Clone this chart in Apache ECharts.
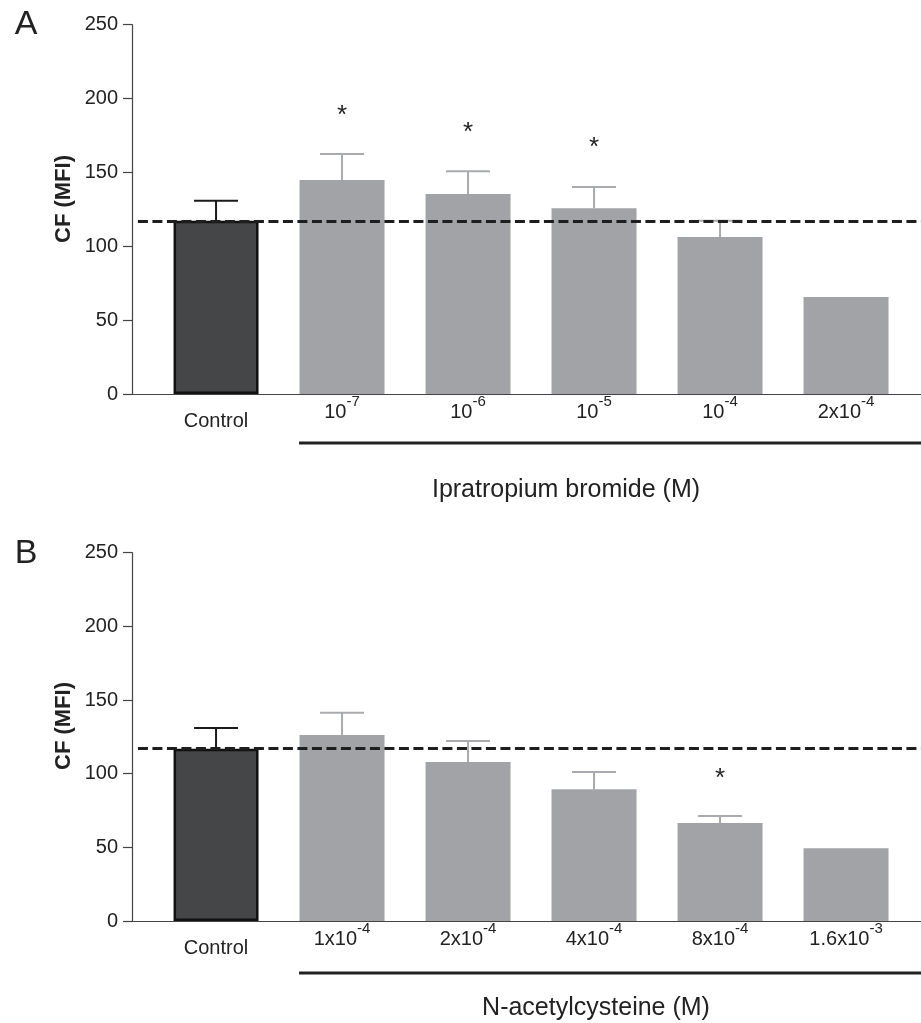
<!DOCTYPE html>
<html><head><meta charset="utf-8">
<script src="https://cdn.jsdelivr.net/npm/echarts@6/dist/echarts.min.js"></script>
<style>html,body{margin:0;padding:0;background:#fff}#c{width:921px;height:1023px}</style>
</head><body><div id="c"></div>
<script>
// ---- data ----
const labelsA = ['Control', '10|-7', '10|-6', '10|-5', '10|-4', '2x10|-4'];
const meansA = [117.3, 144.9, 135.4, 125.7, 106.3, 65.7];
const errTopA = [130.9, 162.5, 150.8, 140.1, 117.3, null];
const starsA = [null, 192, 180, 170, null, null];

const labelsB = ['Control', '1x10|-4', '2x10|-4', '4x10|-4', '8x10|-4', '1.6x10|-3'];
const meansB = [117.0, 126.3, 107.9, 89.4, 66.5, 49.3];
const errTopB = [131.0, 141.4, 122.2, 101.2, 71.3, null];
const starsB = [null, null, null, null, 99.6, null];

const controlRef = [117, 117];           // dashed reference line (control mean), panels A, B
const yTicks = {min: 0, max: 250, interval: 50};
const groupTitles = ['Ipratropium bromide (M)', 'N-acetylcysteine (M)'];
const panelLetters = ['A', 'B'];
const yName = 'CF (MFI)';

// ---- style ----
const FONT = '"Liberation Sans", Arial, Helvetica, sans-serif';
const DARK = '#454648', GRAY = '#a2a3a6', ERRGRAY = '#a9aaad', INK = '#1e1e1e';
const XMIN = -0.667, XMAX = 5.595;

function fmtLabel(s) {
  if (s.indexOf('|') >= 0) {
    const p = s.split('|');
    return '{b|' + p[0] + '}{s|' + p[1] + '}';
  }
  return '{c|' + s + '}';
}

function buildPanel(idx, labels, means, errTop, stars, ref) {
  const barData = means.map((v, i) => ({
    value: [i, v],
    itemStyle: i === 0 ? {color: DARK, borderColor: '#111', borderWidth: 2.5} : {color: GRAY}
  }));
  const errData = [];
  errTop.forEach((t, i) => { if (t != null) errData.push([i, means[i], t]); });
  const starData = [];
  stars.forEach((s, i) => { if (s != null) starData.push([i, s]); });
  return {
    xAxis: {
      type: 'value', gridIndex: idx, min: XMIN, max: XMAX,
      splitLine: {show: false},
      axisLine: {show: true, onZero: false, lineStyle: {color: '#444', width: 1.2}},
      axisTick: {show: false},
      axisLabel: {
        customValues: labels.map((_, i) => i),
        margin: 0,
        formatter: v => fmtLabel(labels[Math.round(v)]),
        rich: {
          b: {fontSize: 20, fontFamily: FONT, color: '#222', lineHeight: 28, verticalAlign: 'bottom'},
          s: {fontSize: 15, fontFamily: FONT, color: '#222', lineHeight: 28, verticalAlign: 'top'},
          c: {fontSize: 20, fontFamily: FONT, color: '#222', lineHeight: 37, verticalAlign: 'bottom'}
        }
      }
    },
    yAxis: {
      type: 'value', gridIndex: idx, min: yTicks.min, max: yTicks.max, interval: yTicks.interval,
      splitLine: {show: false},
      axisLine: {show: true, onZero: false, lineStyle: {color: '#444', width: 1.2}},
      axisTick: {show: true, length: 9, lineStyle: {color: '#444', width: 1.2}},
      axisLabel: {fontSize: 20, fontFamily: FONT, color: '#222', margin: 14}
    },
    series: [
      {
        type: 'bar', xAxisIndex: idx, yAxisIndex: idx, barWidth: 85, data: barData, z: 2,
        markLine: {
          silent: true, symbol: 'none', label: {show: false},
          lineStyle: {type: [10, 4.5], width: 3, color: INK},
          data: [[{coord: [-0.62, ref]}, {coord: [XMAX, ref]}]]
        }
      },
      {
        type: 'custom', xAxisIndex: idx, yAxisIndex: idx, data: errData, z: 3,
        renderItem: function (params, api) {
          const x = api.value(0);
          const p0 = api.coord([x, api.value(1)]);
          const p1 = api.coord([x, api.value(2)]);
          const col = x === 0 ? '#1a1a1a' : ERRGRAY;
          return {type: 'group', children: [
            {type: 'line', shape: {x1: p0[0], y1: p0[1], x2: p1[0], y2: p1[1]}, style: {stroke: col, lineWidth: 2}},
            {type: 'line', shape: {x1: p1[0] - 22, y1: p1[1], x2: p1[0] + 22, y2: p1[1]}, style: {stroke: col, lineWidth: 2}}
          ]};
        }
      },
      {
        type: 'custom', xAxisIndex: idx, yAxisIndex: idx, data: starData, z: 4,
        renderItem: function (params, api) {
          const p = api.coord([api.value(0), api.value(1)]);
          return {type: 'text', x: p[0], y: p[1] + 5,
            style: {text: '*', fontSize: 26, fontFamily: FONT, fill: '#222', align: 'center', verticalAlign: 'middle'}};
        }
      }
    ]
  };
}

const pA = buildPanel(0, labelsA, meansA, errTopA, starsA, controlRef[0]);
const pB = buildPanel(1, labelsB, meansB, errTopB, starsB, controlRef[1]);

const chart = echarts.init(document.getElementById('c'), null, {renderer: 'canvas'});
chart.setOption({
  backgroundColor: '#fff',
  animation: false,
  grid: [
    {left: 132, right: 0, top: 24.7, height: 369.3},
    {left: 132, right: 0, top: 552.7, height: 368.3}
  ],
  xAxis: [pA.xAxis, pB.xAxis],
  yAxis: [pA.yAxis, pB.yAxis],
  series: pA.series.concat(pB.series)
});

// annotations positioned from the axes
const a0 = chart.convertToPixel({xAxisIndex: 0, yAxisIndex: 0}, [1, 0]);
const b0 = chart.convertToPixel({xAxisIndex: 1, yAxisIndex: 1}, [1, 0]);
const txt = (t, x, y, size, extra) => ({
  type: 'text', x: x, y: y, rotation: (extra && extra.rot) || 0,
  style: {text: t, fontSize: size, fontFamily: FONT, fill: '#222', align: 'center', verticalAlign: 'middle',
    fontWeight: (extra && extra.bold) ? 'bold' : 'normal'}
});
chart.setOption({
  graphic: [
    {type: 'line', shape: {x1: a0[0] - 43, y1: a0[1] + 49, x2: 921, y2: a0[1] + 49}, style: {stroke: '#222', lineWidth: 3}},
    {type: 'line', shape: {x1: b0[0] - 43, y1: b0[1] + 52, x2: 921, y2: b0[1] + 52}, style: {stroke: '#222', lineWidth: 3}},
    txt(groupTitles[0], 566, 490, 25),
    txt(groupTitles[1], 596, 1008, 25),
    txt(panelLetters[0], 26, 25, 34),
    txt(panelLetters[1], 26, 554, 34),
    txt(yName, 64, 199, 22, {rot: Math.PI / 2, bold: true}),
    txt(yName, 64, 726, 22, {rot: Math.PI / 2, bold: true})
  ]
});
</script>
</body></html>
